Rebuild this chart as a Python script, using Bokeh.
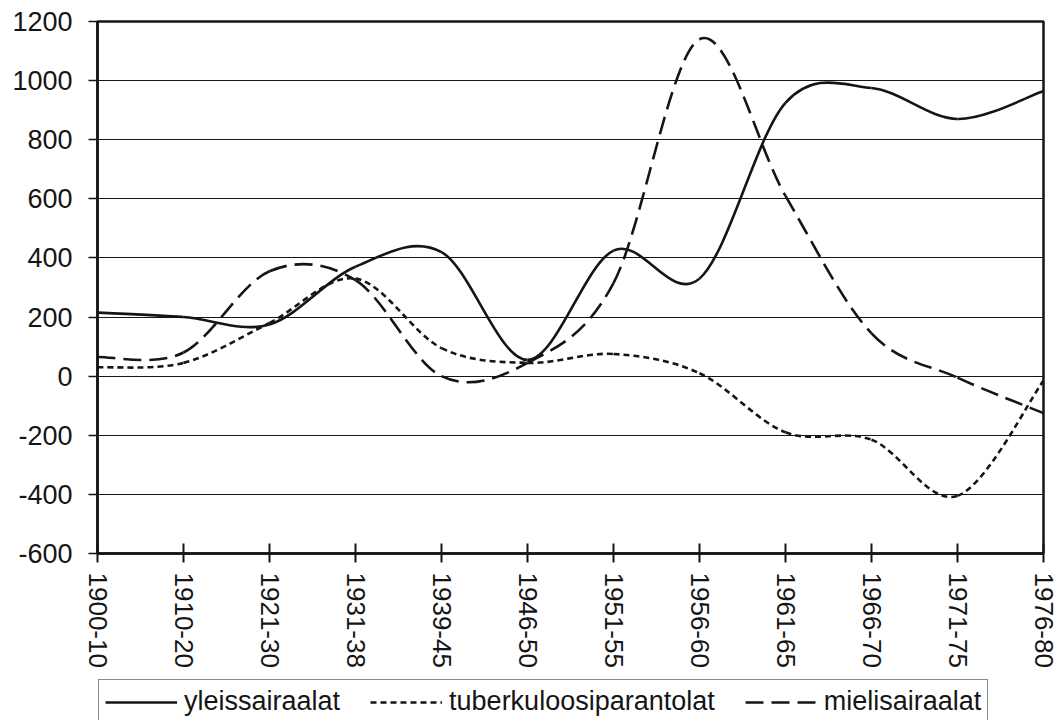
import numpy as np
from bokeh.plotting import figure
from bokeh.layouts import column
from bokeh.models import Range1d, FixedTicker, Legend, LegendItem
from bokeh.embed import file_html
from bokeh.resources import INLINE

periods = ["1900-10", "1910-20", "1921-30", "1931-38", "1939-45", "1946-50",
           "1951-55", "1956-60", "1961-65", "1966-70", "1971-75", "1976-80"]
yleissairaalat = [215, 200, 175, 370, 420, 55, 425, 330, 925, 975, 870, 965]
tuberkuloosiparantolat = [30, 45, 180, 330, 95, 45, 75, 10, -190, -215, -405, -15]
mielisairaalat = [65, 80, 355, 325, 0, 45, 315, 1140, 610, 145, -5, -125]

y_ticks = list(range(-600, 1201, 200))

FONT = "Liberation Sans"
INK = "#151515"


def smooth_segments(vals):
    """Bezier segments (Excel-style smoothed line) through the data points."""
    y = np.asarray(vals, dtype=float)
    x = np.arange(len(y), dtype=float)
    n = len(y)
    tx = np.empty(n)
    ty = np.empty(n)
    for i in range(n):
        a = max(i - 1, 0)
        b = min(i + 1, n - 1)
        tx[i] = x[b] - x[a]
        ty[i] = y[b] - y[a]
    return dict(
        x0=x[:-1], y0=y[:-1], x1=x[1:], y1=y[1:],
        cx0=x[:-1] + tx[:-1] / 6.0, cy0=y[:-1] + ty[:-1] / 6.0,
        cx1=x[1:] - tx[1:] / 6.0, cy1=y[1:] - ty[1:] / 6.0,
    )


p = figure(width=1057, height=676,
           x_range=Range1d(0, len(periods) - 1), y_range=Range1d(-600, 1200),
           output_backend="svg", toolbar_location=None,
           min_border_left=97, min_border_right=14,
           min_border_top=21, min_border_bottom=123)
p.background_fill_color = "white"
p.border_fill_color = "white"
p.outline_line_color = INK
p.outline_line_width = 2.5

series = [
    ("yleissairaalat", yleissairaalat, "solid"),
    ("tuberkuloosiparantolat", tuberkuloosiparantolat, "6 4"),
    ("mielisairaalat", mielisairaalat, "18 8"),
]
for name, vals, dash in series:
    s = smooth_segments(vals)
    p.bezier(x0=s["x0"], y0=s["y0"], x1=s["x1"], y1=s["y1"],
             cx0=s["cx0"], cy0=s["cy0"], cx1=s["cx1"], cy1=s["cy1"],
             line_color=INK, line_width=2.6, line_dash=dash)

# axes
p.xaxis.ticker = FixedTicker(ticks=list(range(len(periods))))
p.xaxis.major_label_overrides = {i: lab for i, lab in enumerate(periods)}
p.xaxis.major_label_orientation = "vertical"
p.xaxis.minor_tick_line_color = None
p.xaxis.major_tick_in = 10
p.xaxis.major_tick_out = 9
p.xaxis.major_tick_line_width = 2
p.xaxis.major_tick_line_color = INK
p.xaxis.axis_line_width = 2.5
p.xaxis.axis_line_color = INK
p.xaxis.major_label_standoff = 10
p.xaxis.major_label_text_font_size = "26px"

p.yaxis.ticker = FixedTicker(ticks=y_ticks)
p.yaxis.major_label_overrides = {v: str(v) for v in y_ticks}
p.yaxis.minor_tick_line_color = None
p.yaxis.major_tick_in = 0
p.yaxis.major_tick_out = 9
p.yaxis.major_tick_line_width = 1.5
p.yaxis.major_tick_line_color = INK
p.yaxis.axis_line_width = 2.5
p.yaxis.axis_line_color = INK
p.yaxis.major_label_standoff = 16
p.yaxis.major_label_text_font_size = "27px"

for ax in (p.xaxis, p.yaxis):
    ax.major_label_text_font = FONT
    ax.major_label_text_color = INK

p.xgrid.visible = False
p.ygrid.ticker = FixedTicker(ticks=y_ticks)
p.ygrid.grid_line_color = INK
p.ygrid.grid_line_width = 1

# legend strip below the chart (series drawn outside its visible range,
# only their legend swatches show)
lg = figure(width=1057, height=44, x_range=Range1d(0, 1), y_range=Range1d(5000, 5001),
            x_axis_type=None, y_axis_type=None,
            output_backend="svg", toolbar_location=None,
            min_border_left=0, min_border_right=0,
            min_border_top=0, min_border_bottom=0)
lg.outline_line_color = None
lg.xgrid.visible = False
lg.ygrid.visible = False
lg.background_fill_color = "white"
lg.border_fill_color = "white"

items = []
for name, vals, dash in series:
    r = lg.line(x=list(range(len(vals))), y=vals, line_color=INK,
                line_width=2.6, line_dash=dash)
    items.append(LegendItem(label=name, renderers=[r]))

legend = Legend(items=items, orientation="horizontal", location=(1, -4),
                glyph_width=72, glyph_height=20, label_standoff=7, spacing=30,
                padding=6, margin=0,
                label_text_font=FONT, label_text_font_size="27px",
                label_text_color=INK,
                border_line_color=INK, border_line_width=1.5,
                background_fill_color="white", background_fill_alpha=1.0)
lg.add_layout(legend, "center")

layout = column(p, lg, spacing=0)
open("out.html", "w").write(file_html(layout, INLINE))
